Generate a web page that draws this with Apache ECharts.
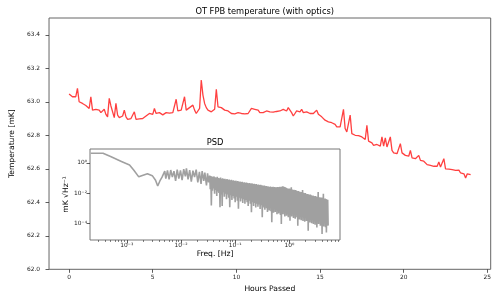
<!DOCTYPE html>
<html><head><meta charset="utf-8">
<script src="https://cdn.jsdelivr.net/npm/echarts@6/dist/echarts.min.js"></script>
<style>html,body{margin:0;padding:0;background:#fff}#c{width:500px;height:300px}</style>
</head><body><div id="c"></div>
<script>
// ---- Main series: FPB temperature, one sample every 0.1 h ----
const sampleStepHours = 0.1;
const temperature = [
63.047,63.040,63.030,63.020,63.030,63.080,63.000,63.005,62.990,62.995,
62.978,62.972,62.960,63.030,62.950,62.940,62.955,62.945,62.950,62.935,
62.940,62.955,62.925,62.910,63.020,62.975,62.985,62.905,62.990,62.920,
62.905,62.900,62.915,62.950,62.910,62.895,62.890,62.900,62.905,62.940,
62.895,62.900,62.898,62.905,62.900,62.910,62.915,62.920,62.930,62.920,
62.925,62.960,62.930,62.925,62.935,62.928,62.922,62.930,62.935,62.925,
62.932,62.928,62.935,62.930,63.015,62.945,62.935,62.950,62.960,63.030,
62.950,62.955,62.965,62.960,62.980,62.950,62.930,62.935,62.960,63.130,
63.040,62.990,62.965,62.950,62.945,62.940,62.950,62.955,63.075,62.970,
62.960,62.965,62.955,62.950,62.940,62.945,62.935,62.930,62.935,62.928,
62.930,62.935,62.925,62.930,62.935,62.928,62.920,62.930,62.940,62.960,
62.970,62.955,62.960,62.950,62.935,62.940,62.935,62.932,62.945,62.935,
62.940,62.945,62.938,62.945,62.942,62.950,62.945,62.948,62.955,62.950,
62.945,62.965,62.975,62.935,62.915,62.930,62.945,62.950,62.940,62.955,
62.935,62.930,62.940,62.935,62.930,62.925,62.930,62.935,62.950,62.925,
62.915,62.910,62.900,62.890,62.885,62.880,62.878,62.875,62.870,62.865,
62.850,62.845,62.850,62.845,62.955,62.840,62.820,62.815,62.920,62.810,
62.805,62.800,62.802,62.798,62.795,62.790,62.780,62.775,62.860,62.765,
62.760,62.755,62.740,62.750,62.745,62.742,62.735,62.790,62.735,62.785,
62.730,62.720,62.790,62.710,62.695,62.700,62.690,62.700,62.750,62.695,
62.690,62.680,62.685,62.675,62.710,62.665,62.670,62.660,62.655,62.680,
62.650,62.640,62.645,62.655,62.625,62.630,62.620,62.625,62.615,62.610,
62.615,62.640,62.610,62.605,62.660,62.600,62.595,62.598,62.590,62.595,
62.585,62.590,62.580,62.592,62.575,62.580,62.570,62.545,62.570,62.560,
62.565
];
const hourTicks = [0, 5, 10, 15, 20, 25];
const tempTicks = [62.0, 62.2, 62.4, 62.6, 62.8, 63.0, 63.2, 63.4];

// ---- Inset: PSD, pairs of [log10 freq (Hz), log10 amplitude (mK/sqrt(Hz))] ----
const psdLog = [
[-3.667,0.63],[-3.60,0.63],[-3.44,0.63],[-3.30,0.41],[-3.10,0.09],[-2.95,-0.15],[-2.87,-0.50],[-2.78,-0.93],
[-2.70,-0.82],[-2.62,-0.72],[-2.59,-0.71],[-2.53,-0.85],[-2.47,-1.15],[-2.43,-1.53],[-2.39,-1.20],[-2.35,-0.95],[-2.33,-0.93],
[-2.30,-0.55],[-2.28,-1.05],[-2.25,-0.50],[-2.22,-1.10],[-2.19,-0.48],[-2.16,-0.95],[-2.13,-0.55],[-2.10,-1.20],
[-2.07,-0.45],[-2.04,-1.05],[-2.01,-0.50],[-1.98,-1.15],[-1.95,-0.42],[-1.92,-0.90],[-1.90,-0.37],[-1.87,-1.10],
[-1.84,-0.48],[-1.81,-1.25],[-1.78,-0.52],[-1.75,-0.95],[-1.72,-0.45],[-1.69,-1.30],[-1.66,-0.60],[-1.63,-1.40],
[-1.61,-0.55],[-1.58,-1.20],[-1.56,-0.65],[-1.53,-1.50],[-1.51,-0.70],[-1.49,-1.30],
[-1.47,-0.85],[-1.46,-1.75],[-1.45,-0.88],[-1.44,-2.82],[-1.43,-0.90],[-1.42,-1.85],[-1.41,-0.92],[-1.40,-1.70],
[-1.39,-0.90],[-1.38,-2.05],[-1.37,-0.95],[-1.36,-1.80],[-1.35,-0.97],[-1.34,-2.20],[-1.33,-0.93],[-1.32,-1.90],
[-1.31,-1.00],[-1.30,-2.00],[-1.29,-1.02],[-1.28,-2.93],[-1.27,-0.98],[-1.26,-2.10],[-1.25,-1.05],[-1.24,-2.85],
[-1.23,-1.03],[-1.22,-1.95],[-1.21,-1.08],[-1.20,-2.25],[-1.19,-1.05],[-1.18,-2.05],[-1.17,-1.10],[-1.16,-2.40],
[-1.15,-1.08],[-1.14,-2.10],[-1.13,-1.12],[-1.12,-2.30],[-1.11,-1.10],[-1.10,-2.93],[-1.09,-1.15],[-1.08,-2.15],
[-1.07,-1.12],[-1.06,-2.45],[-1.05,-1.18],[-1.04,-2.20],[-1.03,-1.15],[-1.02,-2.35],[-1.01,-1.20],[-1.00,-2.60],
[-0.99,-1.18],[-0.98,-2.25],[-0.97,-1.22],[-0.96,-2.50],[-0.95,-1.20],[-0.94,-3.04],[-0.93,-1.25],[-0.92,-2.30],
[-0.91,-1.23],[-0.90,-2.55],[-0.89,-1.27],[-0.88,-2.35],[-0.87,-1.25],[-0.86,-2.65],[-0.85,-1.30],[-0.84,-2.40],
[-0.83,-1.28],[-0.82,-2.70],[-0.81,-1.32],[-0.80,-2.45],[-0.79,-1.30],[-0.78,-2.60],[-0.77,-1.33],[-0.76,-2.85],
[-0.75,-1.35],[-0.74,-2.50],[-0.73,-1.33],[-0.72,-2.70],[-0.71,-1.38],[-0.70,-3.27],[-0.69,-1.36],[-0.68,-2.60],
[-0.67,-1.40],[-0.66,-2.85],[-0.65,-1.38],[-0.64,-2.65],[-0.63,-1.42],[-0.62,-2.95],[-0.61,-1.40],[-0.60,-2.70],
[-0.59,-1.45],[-0.58,-2.90],[-0.57,-1.43],[-0.56,-2.75],[-0.55,-1.47],[-0.54,-3.05],[-0.53,-1.45],[-0.52,-2.80],
[-0.51,-1.48],[-0.50,-3.60],
[-0.492,-1.50],[-0.484,-2.95],[-0.476,-1.52],[-0.468,-2.80],[-0.460,-1.50],[-0.452,-3.10],[-0.444,-1.55],[-0.436,-2.85],
[-0.428,-1.53],[-0.420,-3.00],[-0.412,-1.57],[-0.404,-3.25],[-0.396,-1.55],[-0.388,-2.90],[-0.380,-1.58],[-0.372,-3.15],
[-0.364,-1.60],[-0.356,-2.95],[-0.348,-1.57],[-0.340,-3.20],[-0.332,-1.62],[-0.324,-3.93],[-0.316,-1.60],[-0.308,-3.05],
[-0.300,-1.58],[-0.292,-3.30],[-0.284,-1.63],[-0.276,-3.00],[-0.268,-1.60],[-0.260,-3.25],[-0.252,-1.65],[-0.244,-3.10],
[-0.236,-1.62],[-0.228,-3.40],[-0.220,-1.60],[-0.212,-3.15],[-0.204,-1.64],[-0.196,-3.35],[-0.188,-1.60],[-0.180,-3.05],
[-0.172,-1.58],[-0.164,-3.45],[-0.156,-1.62],[-0.148,-4.04],[-0.140,-1.58],[-0.132,-3.20],[-0.124,-1.55],[-0.116,-3.40],
[-0.108,-1.57],[-0.100,-3.25],[-0.092,-1.60],[-0.084,-3.55],[-0.076,-1.62],[-0.068,-3.30],[-0.060,-1.65],[-0.052,-3.50],
[-0.044,-1.68],[-0.036,-3.35],[-0.028,-1.70],[-0.020,-3.60],[-0.012,-1.72],[-0.004,-3.30],[0.004,-1.70],[0.012,-3.82],
[0.020,-1.75],[0.028,-3.40],[0.036,-1.62],[0.044,-3.55],[0.052,-1.77],[0.060,-3.35],[0.068,-1.80],[0.076,-3.65],
[0.084,-1.78],[0.092,-3.40],[0.100,-1.82],[0.108,-3.70],[0.116,-1.80],[0.124,-3.45],[0.132,-1.85],[0.140,-3.60],
[0.148,-1.88],[0.156,-4.15],[0.164,-1.86],[0.172,-3.50],[0.180,-1.90],[0.188,-3.75],[0.196,-1.92],[0.204,-3.55],
[0.212,-1.95],[0.220,-3.80],[0.228,-1.93],[0.236,-3.50],[0.244,-1.80],[0.252,-3.85],[0.260,-1.98],[0.268,-3.60],
[0.276,-2.02],[0.284,-3.90],[0.292,-2.00],[0.300,-3.65],[0.308,-2.05],[0.316,-3.85],[0.324,-2.08],[0.332,-3.60],
[0.340,-2.06],[0.348,-4.49],[0.356,-2.10],[0.364,-3.75],[0.372,-2.12],[0.380,-3.95],[0.388,-2.10],[0.396,-3.70],
[0.404,-2.15],[0.412,-4.00],[0.420,-2.18],[0.428,-3.75],[0.436,-2.16],[0.444,-4.05],[0.452,-2.20],[0.460,-3.80],
[0.468,-2.22],[0.476,-4.10],[0.484,-2.20],[0.492,-3.85],[0.500,-2.25],[0.508,-4.27],[0.516,-2.27],[0.524,-3.90],
[0.532,-1.93],[0.540,-4.05],[0.548,-2.30],[0.556,-3.85],[0.564,-2.28],[0.572,-4.15],[0.580,-2.32],[0.588,-3.90],
[0.596,-2.30],[0.604,-4.71],[0.612,-2.35],[0.620,-4.00],[0.628,-2.05],[0.636,-4.20],[0.644,-2.38],[0.652,-3.95],
[0.660,-2.36],[0.668,-4.25],[0.676,-2.40],[0.684,-4.60],[0.692,-2.42],[0.700,-4.05],[0.708,-2.45],[0.716,-4.15]
];
const freqTicks = [0.001, 0.01, 0.1, 1];
const freqTickLabels = ['10⁻³', '10⁻²', '10⁻¹', '10⁰'];
const psdTicks = [1, 0.01, 0.0001];
const psdTickLabels = ['10⁰', '10⁻²', '10⁻⁴'];
const freqMinorTicks = [3e-4,4e-4,5e-4,6e-4,7e-4,8e-4,9e-4,2e-3,3e-3,4e-3,5e-3,6e-3,7e-3,8e-3,9e-3,
  0.02,0.03,0.04,0.05,0.06,0.07,0.08,0.09,0.2,0.3,0.4,0.5,0.6,0.7,0.8,0.9,2,3,4,5,6,7,8];

const FONT = 'DejaVu Sans';
const tempData = temperature.map((t, i) => [+(i * sampleStepHours).toFixed(2), t]);
const psdData = psdLog.map(p => [Math.pow(10, p[0]), Math.pow(10, p[1])]);
const labelFor = (ticks, labels) => v => {
  for (let i = 0; i < ticks.length; i++) if (Math.abs(Math.log10(v) - Math.log10(ticks[i])) < 1e-6) return labels[i];
  return '';
};
const tickStyle = {color: '#333', width: 0.8};

const chart = echarts.init(document.getElementById('c'), null, {renderer: 'canvas'});
chart.setOption({
  animation: false,
  backgroundColor: '#fff',
  textStyle: {fontFamily: FONT},
  title: [
    {text: 'OT FPB temperature (with optics)', left: 264.7, top: 7.5, textAlign: 'center', padding: 0,
     textStyle: {fontFamily: FONT, fontSize: 8.3, fontWeight: 'normal', color: '#000'}},
    {text: 'PSD', left: 215, top: 139, textAlign: 'center', padding: 0,
     textStyle: {fontFamily: FONT, fontSize: 8.3, fontWeight: 'normal', color: '#000'}}
  ],
  grid: [
    {left: 38.7, right: 9.3, top: 18, bottom: 30.7, show: true, borderColor: '#666', borderWidth: 1, backgroundColor: 'transparent'},
    {left: 90, top: 149, width: 250, height: 91, show: true, borderColor: '#777', borderWidth: 1, backgroundColor: '#fff'}
  ],
  xAxis: [
    {gridIndex: 0, type: 'value', min: -1.2, max: 25.2, position: 'bottom',
     axisLine: {show: false, onZero: false}, splitLine: {show: false},
     axisTick: {show: true, customValues: hourTicks, length: 3.5, lineStyle: tickStyle},
     axisLabel: {customValues: hourTicks, fontSize: 5.9, margin: 5, color: '#222', fontFamily: FONT},
     name: 'Hours Passed', nameLocation: 'middle', nameGap: 13,
     nameTextStyle: {fontSize: 7.6, color: '#000', fontFamily: FONT}},
    {gridIndex: 1, type: 'log', logBase: 10, min: Math.pow(10, -3.68), max: Math.pow(10, 0.935), position: 'bottom',
     axisLine: {show: false, onZero: false}, splitLine: {show: false}, minorTick: {show: false},
     axisTick: {show: true, customValues: freqTicks, length: 3.5, lineStyle: tickStyle},
     axisLabel: {customValues: freqTicks, formatter: labelFor(freqTicks, freqTickLabels), fontSize: 5.9, margin: 2, color: '#222', fontFamily: FONT},
     name: 'Freq. [Hz]', nameLocation: 'middle', nameGap: 10,
     nameTextStyle: {fontSize: 7.6, color: '#000', fontFamily: FONT}},
    {gridIndex: 1, type: 'log', logBase: 10, min: Math.pow(10, -3.68), max: Math.pow(10, 0.935), position: 'bottom',
     axisLine: {show: false, onZero: false}, splitLine: {show: false},
     axisTick: {show: true, customValues: freqMinorTicks, length: 2, lineStyle: {color: '#333', width: 0.6}},
     axisLabel: {show: false}}
  ],
  yAxis: [
    {gridIndex: 0, type: 'value', min: 62.0, max: 63.5, position: 'left',
     axisLine: {show: false, onZero: false}, splitLine: {show: false},
     axisTick: {show: true, customValues: tempTicks, length: 3.5, lineStyle: tickStyle},
     axisLabel: {customValues: tempTicks, formatter: v => v.toFixed(1), fontSize: 5.9, margin: 9, color: '#222', fontFamily: FONT},
     name: 'Temperature [mK]', nameLocation: 'middle', nameGap: 23,
     nameTextStyle: {fontSize: 7.6, color: '#000', fontFamily: FONT}},
    {gridIndex: 1, type: 'log', logBase: 10, min: Math.pow(10, -5.1), max: Math.pow(10, 0.91), position: 'left',
     axisLine: {show: false, onZero: false}, splitLine: {show: false}, minorTick: {show: false},
     axisTick: {show: true, customValues: psdTicks, length: 3.5, lineStyle: tickStyle},
     axisLabel: {customValues: psdTicks, formatter: labelFor(psdTicks, psdTickLabels), fontSize: 5.9, margin: 3, color: '#222', fontFamily: FONT},
     name: 'mK √Hz⁻¹', nameLocation: 'middle', nameGap: 13,
     nameTextStyle: {fontSize: 7.6, color: '#000', fontFamily: FONT}}
  ],
  series: [
    {type: 'line', xAxisIndex: 0, yAxisIndex: 0, data: tempData, showSymbol: false, symbol: 'none',
     lineStyle: {color: 'rgba(255,0,0,0.75)', width: 1.3}, z: 2},
    {type: 'line', xAxisIndex: 1, yAxisIndex: 1, data: psdData, showSymbol: false, symbol: 'none',
     lineStyle: {color: '#a0a0a0', width: 1.6}, z: 3}
  ]
});
</script></body></html>
